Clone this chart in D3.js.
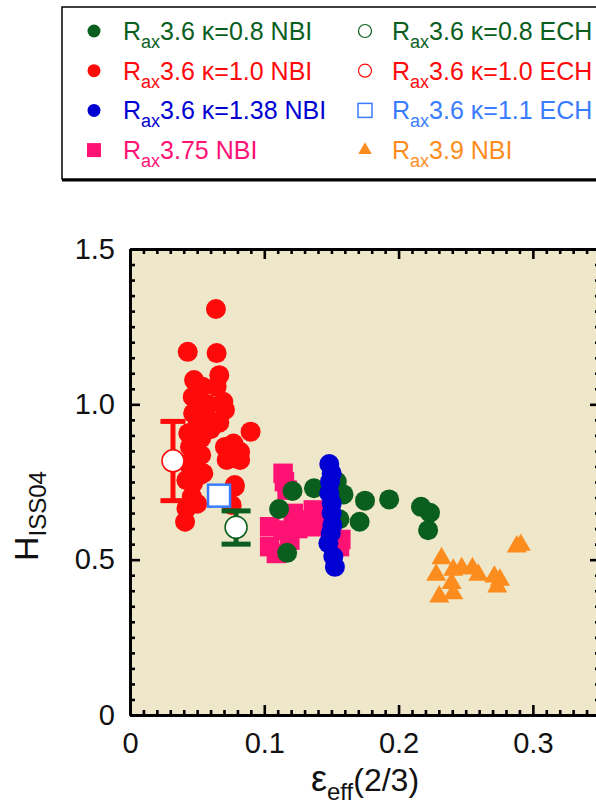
<!DOCTYPE html>
<html>
<head>
<meta charset="utf-8">
<script src="https://d3js.org/d3.v7.min.js"></script>
<style>
  body { margin: 0; background: #fff; }
  svg { display: block; font-family: "Liberation Sans", Arial, Helvetica, sans-serif; }
</style>
</head>
<body>
<svg></svg>
<script>
// Rax3.6 kappa=0.8 NBI
const k08nbi = [[0.111,0.663],[0.117,0.522],[0.121,0.721],[0.137,0.73],[0.154,0.751],[0.159,0.71],[0.156,0.63],
  [0.175,0.69],[0.171,0.622],[0.193,0.694],[0.2167,0.67],[0.2234,0.651],[0.222,0.595]]
// Rax3.6 kappa=1.0 NBI
const k10nbi = [[0.064,1.307],[0.043,1.169],[0.0645,1.165],[0.0665,1.094],[0.0477,1.078],[0.054,1.057],[0.0645,1.057],
  [0.0467,1.024],[0.0695,1.008],[0.0707,0.982],[0.047,0.971],[0.057,0.96],[0.0665,0.941],[0.0898,0.912],[0.0434,0.907],
  [0.053,0.891],[0.0707,0.863],[0.077,0.874],[0.082,0.847],[0.0447,0.863],[0.053,0.837],[0.072,0.821],[0.082,0.821],
  [0.0434,0.81],[0.052,0.772],[0.078,0.74],[0.042,0.756],[0.041,0.622],[0.042,0.665],[0.046,0.703],[0.047,0.746],
  [0.0546,0.778],[0.0757,0.676],[0.078,0.735],[0.079,0.826],[0.06,0.92],[0.058,1.0],[0.05,0.93],[0.0455,0.79],[0.05,0.68]]
// Rax3.6 kappa=1.38 NBI
const k138nbi = [[0.1484,0.808],[0.1502,0.778],[0.149,0.751],[0.1484,0.714],[0.1502,0.681],[0.1502,0.649],
  [0.1507,0.611],[0.1495,0.585],[0.1477,0.553],[0.1514,0.51],[0.1526,0.477]]
// Rax3.75 NBI
const r375nbi = [[0.114,0.778],[0.115,0.751],[0.117,0.724],[0.1216,0.649],[0.104,0.606],[0.104,0.542],[0.114,0.595],
  [0.119,0.563],[0.109,0.52],[0.1365,0.66],[0.1365,0.606],[0.1315,0.628],[0.156,0.542],[0.157,0.565],[0.125,0.6],[0.142,0.63]]
// Rax3.9 NBI
const r39nbi = [[0.232,0.504],[0.228,0.451],[0.2407,0.467],[0.247,0.472],[0.255,0.472],[0.2594,0.451],[0.2395,0.424],
  [0.2407,0.391],[0.2303,0.381],[0.2713,0.445],[0.2755,0.435],[0.2735,0.413],[0.288,0.542],[0.291,0.547]]
// ECH points: [x, y, errLow, errHigh]
const k08ech = [[0.079, 0.604, 0.55, 0.657]]
const k10ech = [[0.032, 0.818, 0.69, 0.945]]
const k11ech = [[0.0663, 0.706]]

const xTicks = [0, 0.1, 0.2, 0.3], xTickLabels = ["0", "0.1", "0.2", "0.3"]
const yTicks = [0, 0.5, 1.0, 1.5], yTickLabels = ["0", "0.5", "1.0", "1.5"]
const legendLabels = ["3.6 κ=0.8 NBI", "3.6 κ=1.0 NBI", "3.6 κ=1.38 NBI", "3.75 NBI",
                      "3.6 κ=0.8 ECH", "3.6 κ=1.0 ECH", "3.6 κ=1.1 ECH", "3.9 NBI"]

const green = "#0a5e1e", red = "#fe0a0a", blue = "#0000d2", pink = "#fe1274", orange = "#fd8c1e", ltblue = "#3a7cff"

const svg = d3.select("svg").attr("width", 596).attr("height", 807),
  margin = {top: 249, right: -4, bottom: 92, left: 130},
  width = 596 - margin.left - margin.right,
  height = 807 - margin.top - margin.bottom,
  chart = svg.append("g").attr("transform", `translate(${margin.left},${margin.top})`)

const x = d3.scaleLinear().domain([0, 0.35]).range([0, width]),
      y = d3.scaleLinear().domain([0, 1.5]).range([height, 0])

chart.append("rect").attr("width", width).attr("height", height).style("fill", "#efe7c9")

// series
const sq = d3.symbol(d3.symbolSquare, 380), tri = d3.symbol(d3.symbolTriangle, 175)

chart.append("g").selectAll("path").data(r375nbi).join("path").attr("d", sq)
  .attr("transform", d => `translate(${x(d[0])},${y(d[1])})`).style("fill", pink)
chart.append("g").selectAll("circle").data(k08nbi).join("circle")
  .attr("cx", d => x(d[0])).attr("cy", d => y(d[1])).attr("r", 10).style("fill", green)
chart.append("g").selectAll("circle").data(k10nbi).join("circle")
  .attr("cx", d => x(d[0])).attr("cy", d => y(d[1])).attr("r", 10).style("fill", red)
chart.append("g").selectAll("circle").data(k138nbi).join("circle")
  .attr("cx", d => x(d[0])).attr("cy", d => y(d[1])).attr("r", 10).style("fill", blue)
chart.append("g").selectAll("path").data(r39nbi).join("path").attr("d", tri)
  .attr("transform", d => `translate(${x(d[0])},${y(d[1])})`).style("fill", orange)

// ECH with error bars
const errBar = (data, color, cap) => {
  const g = chart.append("g").style("stroke", color).style("stroke-width", 5)
  g.selectAll(".v").data(data).join("line").attr("x1", d => x(d[0])).attr("x2", d => x(d[0])).attr("y1", d => y(d[2])).attr("y2", d => y(d[3]))
  g.selectAll(".lo").data(data).join("line").attr("x1", d => x(d[0]) - cap / 2).attr("x2", d => x(d[0]) + cap / 2).attr("y1", d => y(d[2])).attr("y2", d => y(d[2]))
  g.selectAll(".hi").data(data).join("line").attr("x1", d => x(d[0]) - cap / 2).attr("x2", d => x(d[0]) + cap / 2).attr("y1", d => y(d[3])).attr("y2", d => y(d[3]))
  chart.append("g").selectAll("circle").data(data).join("circle")
    .attr("cx", d => x(d[0])).attr("cy", d => y(d[1])).attr("r", 11).style("fill", "#fff").style("stroke", color).style("stroke-width", 1.5)
}
errBar(k10ech, red, 25)
errBar(k08ech, green, 29)
chart.append("g").selectAll("rect").data(k11ech).join("rect")
  .attr("x", d => x(d[0]) - 11).attr("y", d => y(d[1]) - 11).attr("width", 22).attr("height", 22)
  .style("fill", "#fff").style("stroke", ltblue).style("stroke-width", 2.5)

// axes
const minorX = d3.range(0, 0.3501, 0.01).filter(v => Math.abs(v * 10 - Math.round(v * 10)) > 1e-6),
      minorY = d3.range(0, 1.5001, 0.05).filter(v => Math.abs(v * 2 - Math.round(v * 2)) > 1e-6)

const styleAxis = g => {
  g.select(".domain").style("stroke-width", 3)
  g.selectAll(".tick line").style("stroke-width", 2.6)
  g.selectAll(".tick text").style("font-size", "29px").style("fill", "#111")
}
chart.append("g").attr("transform", `translate(0,${height})`)
  .call(d3.axisBottom(x).tickValues(xTicks).tickFormat((d, i) => xTickLabels[i]).tickSize(-10).tickSizeOuter(0).tickPadding(17)).call(styleAxis)
chart.append("g").attr("transform", `translate(0,${height})`)
  .call(d3.axisBottom(x).tickValues(minorX).tickFormat("").tickSize(-5).tickSizeOuter(0)).call(styleAxis)
chart.append("g").call(d3.axisTop(x).tickValues(xTicks).tickFormat("").tickSize(-10).tickSizeOuter(0)).call(styleAxis)
chart.append("g").call(d3.axisTop(x).tickValues(minorX).tickFormat("").tickSize(-5).tickSizeOuter(0)).call(styleAxis)
chart.append("g")
  .call(d3.axisLeft(y).tickValues(yTicks).tickFormat((d, i) => yTickLabels[i]).tickSize(-10).tickSizeOuter(0).tickPadding(15)).call(styleAxis)
chart.append("g").call(d3.axisLeft(y).tickValues(minorY).tickFormat("").tickSize(-5).tickSizeOuter(0)).call(styleAxis)
chart.append("g").attr("transform", `translate(${width},0)`)
  .call(d3.axisRight(y).tickValues(yTicks).tickFormat("").tickSize(-10).tickSizeOuter(0)).call(styleAxis)
chart.append("g").attr("transform", `translate(${width},0)`)
  .call(d3.axisRight(y).tickValues(minorY).tickFormat("").tickSize(-5).tickSizeOuter(0)).call(styleAxis)

// axis titles
const xt = chart.append("text").attr("x", width / 2).attr("y", height + 76).style("text-anchor", "middle").style("fill", "#111")
xt.append("tspan").text("ε").style("font-size", "36px")
xt.append("tspan").text("eff").style("font-size", "24px").attr("baseline-shift", "-9")
xt.append("tspan").text("(2/3)").style("font-size", "32px")

const yt = svg.append("text").attr("transform", "translate(38,516) rotate(-90)").style("text-anchor", "middle").style("fill", "#111")
yt.append("tspan").text("H").style("font-size", "34px")
yt.append("tspan").text("ISS04").style("font-size", "24px").attr("baseline-shift", "-8")

// legend
const legend = svg.append("g")
legend.append("line").attr("x1", 62).attr("x2", 600).attr("y1", 180).attr("y2", 180).style("stroke", "#000").style("stroke-width", 3)
legend.append("rect").attr("x", 62).attr("y", 7).attr("width", 560).attr("height", 172)
  .style("fill", "#fff").style("stroke", "#000").style("stroke-width", 1.5)

const rowY = i => 31 + i * 39.7,
      legendColors = [green, red, blue, pink, green, red, ltblue, orange]
legendLabels.forEach((lab, i) => {
  const col = i < 4 ? 0 : 1, row = i % 4,
        mx = col ? 365 : 94, tx = col ? 392 : 123, my = rowY(row), c = legendColors[i]
  if (i < 3) legend.append("circle").attr("cx", mx).attr("cy", my).attr("r", 6.5).style("fill", c)
  else if (i === 3) legend.append("rect").attr("x", mx - 7).attr("y", my - 7).attr("width", 14).attr("height", 14).style("fill", c)
  else if (i < 6) legend.append("circle").attr("cx", mx).attr("cy", my).attr("r", 6.5).style("fill", "#fff").style("stroke", c).style("stroke-width", 1.2)
  else if (i === 6) legend.append("rect").attr("x", mx - 7).attr("y", my - 7).attr("width", 14).attr("height", 14).style("fill", "#fff").style("stroke", c).style("stroke-width", 1.5)
  else legend.append("path").attr("d", d3.symbol(d3.symbolTriangle, 80)).attr("transform", `translate(${mx},${my})`).style("fill", c)
  const t = legend.append("text").attr("x", tx).attr("y", my + 9).style("fill", c)
  t.append("tspan").text("R").style("font-size", "25px")
  t.append("tspan").text("ax").style("font-size", "18px").attr("baseline-shift", "-8")
  t.append("tspan").text(lab).style("font-size", "25px")
})
</script>
</body>
</html>
